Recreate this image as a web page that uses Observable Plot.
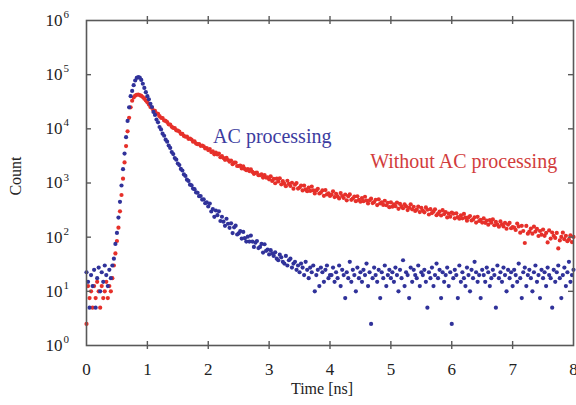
<!DOCTYPE html>
<html><head><meta charset="utf-8">
<script src="https://cdn.jsdelivr.net/npm/d3@7"></script>
<script src="https://cdn.jsdelivr.net/npm/@observablehq/plot@0.6"></script>
<style>body{margin:0;background:#fff}</style>
</head><body><div id="chart"></div>
<script>
// time bins (ns)
const timeStep = 0.025;

// Without AC processing (red), counts per bin starting at t = 0
const withoutAC = [
 2.5, 12.5, 7.5, 10, 5, 12.5, 7.5, 15, 10, 5, 12.5, 7.5, 10, 15, 7.5, 12.5, 10, 17.5,
 30, 50, 85, 150, 300, 600, 1200, 2400, 4800, 9000, 16000, 25000, 33000, 38000, 41000, 42500, 43000, 42000, 40500, 38500, 36000, 33500, 31000,
 28100, 25200, 24400, 22000, 21400, 19300, 18900, 17100, 16000, 15800, 14300, 14000, 13300, 12100, 12000, 10900, 10400, 10300, 9400, 9300,
 8900, 8100, 8050, 7400, 7150, 7200, 6550, 6600, 6350, 5800, 5850, 5350, 5200, 5250, 4850, 4900, 4750, 4350, 4400, 4050,
 4230, 3730, 3820, 3390, 3650, 3360, 3500, 3000, 3130, 2880, 2680, 2920, 2660, 2480, 2590, 2230, 2370, 2390, 2060, 2060,
 2100, 1860, 2020, 1820, 1720, 1810, 1660, 1780, 1600, 1480, 1540, 1550, 1390, 1390, 1440, 1260, 1400, 1260, 1270, 1170,
 1330, 1090, 1190, 990, 1200, 1070, 1220, 945, 1080, 965, 875, 1100, 960, 880, 1010, 785, 930, 995, 790, 825,
 895, 730, 895, 760, 705, 820, 715, 860, 730, 640, 730, 780, 640, 665, 730, 580, 740, 615, 645, 575,
 612, 703, 549, 633, 566, 518, 652, 575, 528, 613, 478, 571, 614, 489, 515, 562, 462, 569, 487, 451,
 526, 461, 557, 474, 418, 480, 514, 426, 445, 491, 392, 501, 420, 441, 393, 470, 388, 430, 358, 440,
 366, 402, 373, 436, 334, 410, 365, 342, 405, 371, 316, 351, 404, 326, 364, 305, 322, 367, 291, 347,
 310, 288, 354, 321, 262, 329, 278, 295, 327, 254, 271, 296, 251, 315, 267, 291, 231, 271, 239, 283,
 272, 223, 275, 235, 219, 254, 223, 269, 229, 202, 231, 246, 203, 212, 233, 186, 237, 199, 209, 186,
 222, 184, 203, 170, 207, 185, 213, 166, 191, 170, 156, 195, 172, 158, 183, 143, 171, 183, 146, 153,
 150, 136, 178, 158, 121, 162, 130, 78, 161, 116, 127, 144, 116, 156, 127, 142, 105, 130, 111, 138,
 106, 120, 80, 133, 94, 122, 106, 97, 120, 62, 87, 101, 121, 92, 106, 84, 91, 108, 81, 101
];

// AC processing (blue), counts per bin starting at t = 0
const withAC = [
 22.5, 15, 5, 20, 12.5, 25, 5, 17.5, 27.5, 10, 22.5, 15, 30, 20, 12.5, 25, 17.5, 30,
 40, 75, 120, 230, 450, 900, 1800, 3500, 7000, 14000, 25000, 40000, 50000, 64000, 78000, 87000, 90000, 88000, 80000, 68000, 57000, 47500, 40000,
 35000, 29000, 25300, 20500, 18100, 14800, 13200, 10800, 9750, 8150, 7450, 6300, 5800, 4900, 4450, 3720, 3420, 2880, 2700, 2290,
 2140, 1820, 1700, 1440, 1350, 1150, 1090, 930, 905, 790, 770, 670, 660, 570, 575, 495, 500, 425, 440, 370,
 417, 298, 330, 237, 311, 255, 300, 199, 238, 193, 162, 219, 177, 149, 180, 119, 152, 163, 112, 117,
 129, 94, 125, 96, 83, 102, 83, 107, 83, 66, 79, 85, 63, 66, 75, 52, 74, 56, 59, 48,
 57.5, 50, 45, 52.5, 40, 37.5, 47.5, 42.5, 35, 32.5, 45, 30, 37.5, 40, 27.5, 32.5, 35, 25, 30, 22.5,
 32.5, 27.5, 20, 35, 25, 17.5, 27.5, 22.5, 30, 10, 20, 25, 12.5, 27.5, 22.5, 15, 25, 30, 17.5, 20,
 20, 27.5, 15, 22.5, 17.5, 30, 12.5, 25, 20, 7.5, 22.5, 17.5, 35, 15, 25, 20, 10, 27.5, 17.5, 22.5,
 15, 25, 20, 32.5, 12.5, 22.5, 2.5, 17.5, 27.5, 20, 15, 25, 7.5, 22.5, 17.5, 30, 12.5, 20, 25, 17.5,
 22.5, 15, 27.5, 20, 10, 25, 17.5, 37.5, 12.5, 22.5, 20, 7.5, 27.5, 15, 25, 20, 17.5, 30, 12.5, 22.5,
 20, 25, 15, 5, 22.5, 17.5, 27.5, 12.5, 20, 32.5, 17.5, 25, 7.5, 22.5, 15, 20, 27.5, 12.5, 22.5, 2.5,
 17.5, 25, 20, 7.5, 30, 15, 22.5, 17.5, 12.5, 27.5, 20, 10, 25, 17.5, 35, 22.5, 15, 20, 7.5, 25,
 20, 15, 27.5, 22.5, 12.5, 17.5, 25, 20, 5, 30, 17.5, 22.5, 15, 27.5, 20, 10, 25, 17.5, 22.5, 12.5,
 25, 20, 15, 32.5, 17.5, 7.5, 22.5, 27.5, 12.5, 20, 25, 17.5, 10, 22.5, 30, 15, 20, 7.5, 25, 17.5,
 22.5, 12.5, 27.5, 20, 17.5, 5, 25, 15, 22.5, 30, 17.5, 7.5, 20, 27.5, 12.5, 22.5, 35, 15, 20, 25
];

const xTicks = [0, 1, 2, 3, 4, 5, 6, 7, 8];
const yTicks = [1, 10, 100, 1000, 10000, 100000, 1000000];

const seriesLabels = ["AC processing", "Without AC processing"];
const labelTimes = [2.08, 4.66];
const labelCounts = [7200, 2450];

const redRows = withoutAC.map((c, i) => ({t: i * timeStep, c}));
const blueRows = withAC.map((c, i) => ({t: i * timeStep, c}));
const labelRows = seriesLabels.map((s, i) => ({s, t: labelTimes[i], c: labelCounts[i]}));

const W = 576, H = 405, mL = 86, mR = 3, mT = 20, mB = 60;
const innerW = W - mL - mR, innerH = H - mT - mB;
const font = "'Liberation Serif','Times New Roman',Times,serif";
const axisColor = "#595959";
const textColor = "#222";
const blue = "#30329a", red = "#e6302a";

const chart = Plot.plot({
  width: W, height: H,
  marginLeft: mL, marginRight: mR, marginTop: mT, marginBottom: mB,
  style: {fontFamily: font, background: "#fff", overflow: "visible"},
  x: {domain: [0, 8]},
  y: {type: "log", domain: [1, 1e6]},
  marks: [
    Plot.dot(redRows, {x: "t", y: "c", r: 2.1, fill: red, stroke: null}),
    Plot.dot(blueRows, {x: "t", y: "c", r: 2.1, fill: blue, stroke: null}),
    Plot.frame({stroke: axisColor, strokeWidth: 1.6}),
    Plot.ruleX(xTicks.slice(1, -1), {insetTop: innerH - 4, insetBottom: -4, stroke: axisColor, strokeWidth: 1.4}),
    Plot.ruleX(xTicks.slice(1, -1), {insetBottom: innerH - 4, insetTop: -4, stroke: axisColor, strokeWidth: 1.4}),
    Plot.ruleY(yTicks.slice(1, -1), {insetRight: innerW - 5, stroke: axisColor, strokeWidth: 1.4}),
    Plot.ruleY(yTicks.slice(1, -1), {insetLeft: innerW - 5, stroke: axisColor, strokeWidth: 1.4}),
    Plot.axisX(xTicks, {tickSize: 0, tickPadding: 17, fontSize: 17, fill: textColor, label: null}),
    Plot.axisY(yTicks, {tickSize: 0, tickPadding: 24, fontSize: 17, fill: textColor, tickFormat: () => "10", label: null}),
    Plot.axisY(yTicks, {tickSize: 0, tickPadding: 23, textAnchor: "start", fontSize: 11, dy: -6, fill: textColor,
      tickFormat: d => String(Math.round(Math.log10(d))), label: null}),
    Plot.text(["Time [ns]"], {frameAnchor: "bottom", lineAnchor: "middle", textAnchor: "middle", dx: -8, dy: 43, fontSize: 16, fill: textColor}),
    Plot.text(["Count"], {frameAnchor: "left", lineAnchor: "middle", textAnchor: "middle", dx: -71, dy: -7, rotate: -90, fontSize: 16, fill: textColor}),
    Plot.text(labelRows, {x: "t", y: "c", text: "s", textAnchor: "start", fontSize: 20,
      fill: (d, i) => i === 0 ? "#3c3ca0" : "#d23c3c"})
  ]
});
document.getElementById("chart").appendChild(chart);
</script>
</body></html>
